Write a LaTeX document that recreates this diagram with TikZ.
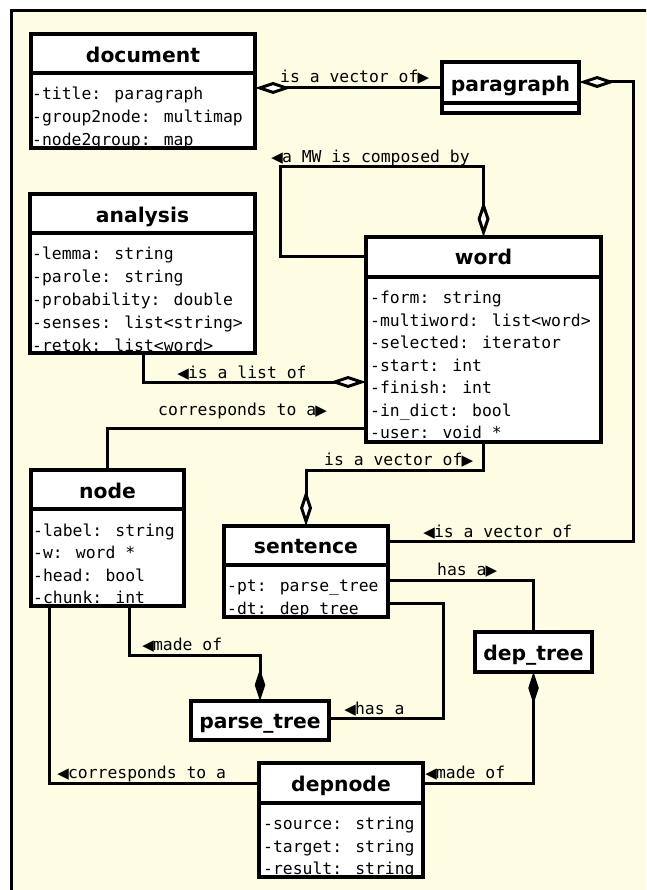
\documentclass[tikz,border=0pt]{standalone}
\usepackage{fontspec}
\newfontfamily\monof{DejaVu Sans Mono}
\newfontfamily\titlef{DejaVu Sans}
\usetikzlibrary{arrows.meta}
\definecolor{bgy}{RGB}{254,252,226}
\newcommand{\rtri}{\makebox[9.87pt]{\titlef\fontsize{15}{16}\selectfont ▶}}
\newcommand{\ltri}{\makebox[9.87pt]{\titlef\fontsize{15}{16}\selectfont ◀}}
\tikzset{
  cls/.style={draw, line width=3.2pt, fill=white, inner sep=0pt, outer sep=0pt, rectangle, anchor=north west},
  boxline/.style={line width=3.2pt},
  conn/.style={line width=3pt},
  ttl/.style={font=\titlef\bfseries\fontsize{20.3}{24}\selectfont, anchor=base, inner sep=0pt},
  attr/.style={font=\monof\fontsize{16.4}{20}\selectfont, anchor=base west, inner sep=0pt},
  lbl/.style={font=\monof\fontsize{16.4}{20}\selectfont, anchor=base west, inner sep=0pt},
  agg/.tip={Diamond[length=36pt,width=12pt,fill=white]},
  comp/.tip={Diamond[length=32pt,width=10.5pt]},
}
\begin{document}
\begin{tikzpicture}[x=1pt,y=-1pt]
\useasboundingbox (0,0) rectangle (646,890);
\clip (0,0) rectangle (646,890);
\fill[white] (0,0) rectangle (646,890);
\draw[line width=3pt, fill=bgy] (11,11) rectangle (720,960);

% ---------- class boxes ----------
\node[cls, minimum width=224pt, minimum height=114pt] (document) at (31,34) {};
\node[cls, minimum width=137pt, minimum height=51pt] (paragraph) at (442,62) {};
\node[cls, minimum width=225pt, minimum height=159pt] (analysis) at (30,194) {};
\node[cls, minimum width=235pt, minimum height=205pt] (word) at (366,237) {};
\node[cls, minimum width=153pt, minimum height=136pt] (nodecls) at (31,470) {};
\node[cls, minimum width=164pt, minimum height=91pt] (sentence) at (224,526) {};
\node[cls, minimum width=117pt, minimum height=40pt] (deptree) at (475,632) {};
\node[cls, minimum width=138pt, minimum height=39pt] (parsetree) at (191,701) {};
\node[cls, minimum width=164pt, minimum height=114pt] (depnode) at (259,763) {};

% dividers
\draw[boxline] ([yshift=-39pt]document.north west) -- ([yshift=-39pt]document.north east);
\draw[boxline] ([yshift=-41pt]paragraph.north west) -- ([yshift=-41pt]paragraph.north east);
\draw[boxline] ([yshift=-39pt]analysis.north west) -- ([yshift=-39pt]analysis.north east);
\draw[boxline] ([yshift=-40pt]word.north west) -- ([yshift=-40pt]word.north east);
\draw[boxline] ([yshift=-39pt]nodecls.north west) -- ([yshift=-39pt]nodecls.north east);
\draw[boxline] ([yshift=-39pt]sentence.north west) -- ([yshift=-39pt]sentence.north east);
\draw[boxline] ([yshift=-40pt]depnode.north west) -- ([yshift=-40pt]depnode.north east);

% titles
\node[ttl] (document-t) at (143,63) {document};
\node[ttl] (paragraph-t) at (510.5,92) {paragraph};
\node[ttl] (analysis-t) at (142.5,223) {analysis};
\node[ttl] (word-t) at (483.5,265) {word};
\node[ttl] (nodecls-t) at (107.5,498) {node};
\node[ttl] (sentence-t) at (306,553) {sentence};
\node[ttl] (deptree-t) at (533.5,660) {dep\_tree};
\node[ttl] (parsetree-t) at (260,728) {parse\_tree};
\node[ttl] (depnode-t) at (341,791) {depnode};

% attributes (clipped to their boxes)
\begin{scope}
\clip (document.north west) rectangle (document.south east);
\node[attr] (document-a1) at (32,100) {-title: paragraph};
\node[attr] (document-a2) at (32,123) {-group2node: multimap};
\node[attr] (document-a3) at (32,146) {-node2group: map};
\end{scope}
\begin{scope}
\clip (analysis.north west) rectangle (analysis.south east);
\node[attr] (analysis-a1) at (32,260) {-lemma: string};
\node[attr] (analysis-a2) at (32,283) {-parole: string};
\node[attr] (analysis-a3) at (32,305.5) {-probability: double};
\node[attr] (analysis-a4) at (32,328) {-senses: list<string>};
\node[attr] (analysis-a5) at (32,351) {-retok: list<word>};
\end{scope}
\begin{scope}
\clip (word.north west) rectangle (word.south east);
\node[attr] (word-a1) at (370,303.5) {-form: string};
\node[attr] (word-a2) at (370,326) {-multiword: list<word>};
\node[attr] (word-a3) at (370,348.5) {-selected: iterator};
\node[attr] (word-a4) at (370,371) {-start: int};
\node[attr] (word-a5) at (370,393.5) {-finish: int};
\node[attr] (word-a6) at (370,416) {-in\_dict: bool};
\node[attr] (word-a7) at (370,438.5) {-user: void *};
\end{scope}
\begin{scope}
\clip (nodecls.north west) rectangle (nodecls.south east);
\node[attr] (nodecls-a1) at (33,536) {-label: string};
\node[attr] (nodecls-a2) at (33,558.5) {-w: word *};
\node[attr] (nodecls-a3) at (33,581) {-head: bool};
\node[attr] (nodecls-a4) at (33,603.5) {-chunk: int};
\end{scope}
\begin{scope}
\clip (sentence.north west) rectangle (sentence.south east);
\node[attr] (sentence-a1) at (227,591) {-pt: parse\_tree};
\node[attr] (sentence-a2) at (227,614) {-dt: dep\_tree};
\end{scope}
\begin{scope}
\clip (depnode.north west) rectangle (depnode.south east);
\node[attr] (depnode-a1) at (263,829.3) {-source: string};
\node[attr] (depnode-a2) at (263,852) {-target: string};
\node[attr] (depnode-a3) at (263,874.5) {-result: string};
\end{scope}
% redraw borders over clipped text
\foreach \b in {document,paragraph,analysis,word,nodecls,sentence,deptree,parsetree,depnode}
  \draw[boxline] (\b.north west) rectangle (\b.south east);

% ---------- connectors ----------
\draw[conn, agg-] (document.east |- 0,88) -- (paragraph.west |- 0,88);
\node[lbl] (l1) at (280,83) {is a vector of\rtri};

\draw[conn, agg-] (paragraph.east |- 0,82) -- (633,82) -- (633,541) -- (sentence.east |- 0,541);
\node[lbl] (l2) at (424,537) {\ltri is a vector of};

\draw[conn, agg-] (word.north) -- (word.north |- 0,167) -- (280,167) -- (280,257) -- (word.west |- 0,257);
\node[lbl] (l3) at (272,163) {\ltri a MW is composed by};

\draw[conn, -agg] (analysis.south -| 143,0) -- (143,382) -- (word.west |- 0,382);
\node[lbl] (l4) at (178,378) {\ltri is a list of};

\draw[conn] (nodecls.north) -- (nodecls.north |- 0,428) -- (word.west |- 0,428);
\node[lbl] (l5) at (158,415) {corresponds to a\rtri};

\draw[conn, -agg] (word.south) -- (word.south |- 0,470) -- (306,470) -- (sentence.north);
\node[lbl] (l6) at (324,465) {is a vector of\rtri};

\draw[conn] (sentence.east |- 0,580) -| (deptree.north);
\node[lbl] (l7) at (437,575) {has a\rtri};

\draw[conn] (sentence.east |- 0,603) -- (443,603) -- (443,718) -- (parsetree.east |- 0,718);
\node[lbl] (l8) at (345,714) {\ltri has a};

\draw[conn, -comp] (nodecls.south -| 129,0) -- (129,655) -- (260,655) -- (parsetree.north);
\node[lbl] (l9) at (143,650) {\ltri made of};

\draw[conn, comp-] (deptree.south) -- (deptree.south |- 0,783) -- (depnode.east |- 0,783);
\node[lbl] (l10) at (426,778) {\ltri made of};

\draw[conn] (nodecls.south -| 49,0) -- (49,783) -- (depnode.west |- 0,783);
\node[lbl] (l11) at (58,778) {\ltri corresponds to a};
\end{tikzpicture}
\end{document}
